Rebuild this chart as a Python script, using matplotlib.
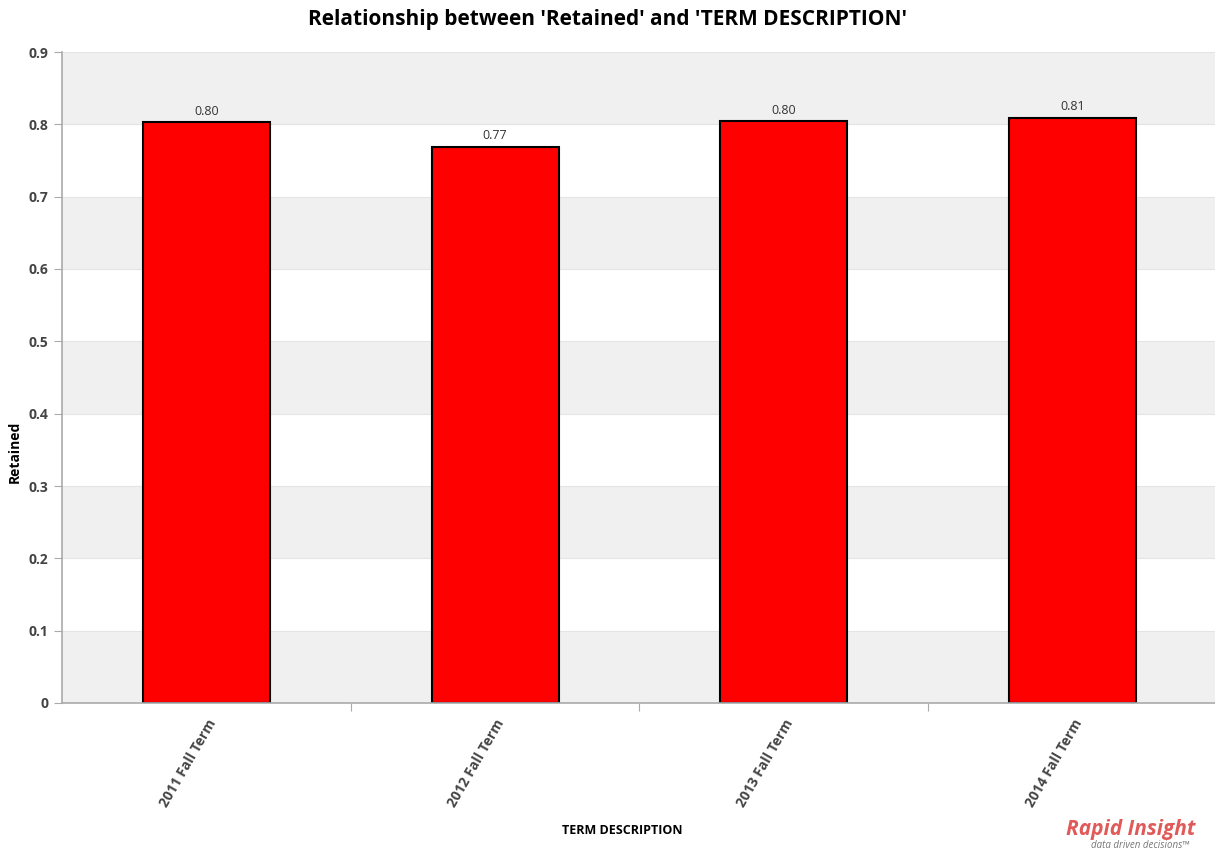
import matplotlib
matplotlib.use("Agg")
from matplotlib import pyplot as plt
import numpy as np

terms = ["2011 Fall Term", "2012 Fall Term", "2013 Fall Term", "2014 Fall Term"]
retained = [0.803, 0.769, 0.804, 0.809]
yticks = [0, 0.1, 0.2, 0.3, 0.4, 0.5, 0.6, 0.7, 0.8, 0.9]
ytick_labels = ["0", "0.1", "0.2", "0.3", "0.4", "0.5", "0.6", "0.7", "0.8", "0.9"]

plt.rcParams['font.family'] = ['Open Sans', 'DejaVu Sans']

fig = plt.figure(figsize=(12.15, 8.52), dpi=100)
ax = fig.add_axes([62/1215, 1 - 703/852, (1217 - 62)/1215, (703 - 52)/852])

# alternating background bands
for i in range(0, len(yticks) - 1, 2):
	ax.axhspan(yticks[i], yticks[i + 1], color='#f0f0f0', zorder=0, lw=0)
for y in yticks[1:]:
	ax.axhline(y, color='#e4e4e4', lw=0.8, zorder=0.5)

x = np.arange(len(terms))
bars = ax.bar(x, retained, width=0.44, color='#ff0000', edgecolor='black', linewidth=1.5, zorder=2)
for xi, v in zip(x, retained):
	ax.text(xi, v + 0.006, "%.2f" % v, ha='center', va='bottom', fontsize=9, color='#333333')

ax.set_xlim(-0.5, 3.5)
ax.set_ylim(0, 0.9)
ax.set_yticks(yticks)
ax.set_yticklabels(ytick_labels, fontsize=10, fontweight='bold', color='#444444')
ax.set_xticks(x[:-1] + 0.5)
ax.set_xticklabels([])
ax.set_xticks(x, minor=True)
ax.set_xticklabels(terms, minor=True, rotation=60, ha='right', va='top', rotation_mode='anchor',
	fontsize=10, fontweight='bold', color='#444444')
ax.tick_params(axis='x', which='minor', length=0, pad=10)
ax.tick_params(axis='x', which='major', length=6, color='#aaaaaa', direction='out')
ax.tick_params(axis='y', length=6, color='#aaaaaa', pad=4)

for s in ['top', 'right']:
	ax.spines[s].set_visible(False)
for s in ['left', 'bottom']:
	ax.spines[s].set_color('#aaaaaa')
	ax.spines[s].set_linewidth(1.2)

ax.set_ylabel("Retained", fontsize=10, fontweight='bold', color='black')
ax.yaxis.set_label_coords(-(62 - 22)/1155, 0.386)
fig.text(622/1215, 1 - 830/852, "TERM DESCRIPTION", ha='center', va='center', fontsize=9, fontweight='bold')
fig.text(608/1215, 1 - 20/852, "Relationship between 'Retained' and 'TERM DESCRIPTION'", ha='center', va='center',
	fontsize=15, fontweight='bold')

# logo text
fig.text(1195/1215, 1 - 829/852, "Rapid Insight", ha='right', va='center', fontsize=15, fontweight='bold',
	style='italic', color='#e05a5a')
fig.text(1190/1215, 1 - 845/852, "data driven decisions\u2122", ha='right', va='center', fontsize=7,
	style='italic', color='#777777')

fig.savefig("out.png", dpi=100)
